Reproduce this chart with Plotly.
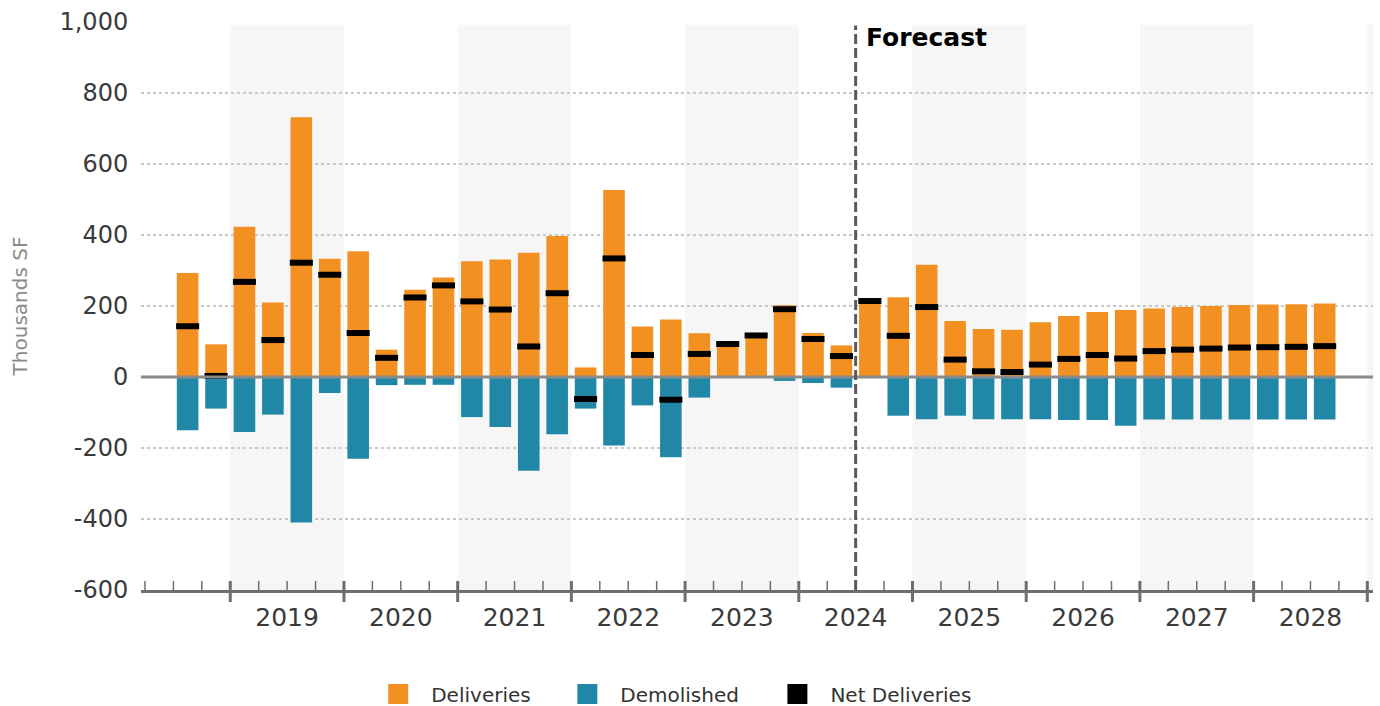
import plotly.graph_objects as go

# Quarterly delivery figures, thousands of square feet (2018 Q3 - 2028 Q3)
quarters = [f"{y} Q{q}" for y in range(2018, 2029) for q in range(1, 5)]
quarters = quarters[quarters.index("2018 Q3"):quarters.index("2028 Q3") + 1]

deliveries = [293, 92, 423, 210, 732, 333, 354, 77, 246, 280,
              326, 331, 350, 397, 27, 527, 142, 162, 123, 93,
              117, 202, 124, 89, 214, 225, 316, 158, 135, 133,
              154, 172, 183, 189, 193, 197, 200, 203, 204, 205, 207]
demolished = [-150, -89, -155, -106, -410, -45, -230, -23, -22, -22,
              -113, -141, -264, -161, -89, -193, -80, -226, -58, 0,
              0, -11, -17, -30, 0, -109, -119, -109, -119, -119,
              -119, -121, -121, -137, -120, -120, -120, -120, -120, -120, -120]
net_deliveries = [d + m for d, m in zip(deliveries, demolished)]

years = list(range(2019, 2029))
y_ticks = [-600, -400, -200, 0, 200, 400, 600, 800, 1000]
y_tick_text = ["-600", "-400", "-200", "0", "200", "400", "600", "800", "1,000"]
forecast_start = "2024 Q3"

ORANGE = "#F39022"
TEAL = "#2187A7"
AXIS_GREY = "#6e6e6e"
FONT = "DejaVu Sans"


def slot(label):
    """Quarter slot index on the x axis; 2018 Q2 is slot 0."""
    y, q = label.split(" Q")
    return (int(y) - 2018) * 4 + int(q) - 2


def year_start(year):
    return (year - 2018) * 4 - 1.5


x = [slot(q) for q in quarters]

fig = go.Figure()
fig.add_trace(go.Bar(x=x, y=deliveries, width=0.76, marker=dict(color=ORANGE, line=dict(width=0)),
                     name="Deliveries", showlegend=False))
fig.add_trace(go.Bar(x=x, y=demolished, width=0.76, marker=dict(color=TEAL, line=dict(width=0)),
                     name="Demolished", showlegend=False))
fig.add_trace(go.Scatter(x=x, y=net_deliveries, mode="markers", name="Net Deliveries", showlegend=False,
                         marker=dict(symbol="line-ew", size=16.5, color="black",
                                     line=dict(width=6, color="black"))))

# legend entries with square swatches, one legend per entry
for i, (name, color) in enumerate([("Deliveries", ORANGE), ("Demolished", TEAL), ("Net Deliveries", "black")]):
    fig.add_trace(go.Scatter(x=[None], y=[None], mode="markers", name=name,
                             legend="legend" if i == 0 else f"legend{i + 1}",
                             marker=dict(symbol="square", size=16, color=color,
                                         line=dict(width=4, color=color))))

shapes = []
# alternating year shading
for yr in range(2019, 2030, 2):
    shapes.append(dict(type="rect", xref="x", yref="paper", x0=year_start(yr), x1=year_start(yr + 1),
                       y0=0, y1=0.995, fillcolor="#f6f6f6", line=dict(width=0), layer="below"))
# zero line
shapes.append(dict(type="line", xref="paper", yref="y", x0=0, x1=1, y0=0, y1=0,
                   line=dict(color="#8a8a8a", width=3), layer="above"))
# quarter ticks and year ticks on the category axis
first_slot, last_slot = -0.5, year_start(2029)
b = first_slot
while b <= last_slot + 1e-9:
    is_year = abs(((b + 1.5) / 4) - round((b + 1.5) / 4)) < 1e-9
    shapes.append(dict(type="line", xref="x", yref="paper", ysizemode="pixel", yanchor=0,
                       x0=b, x1=b, y0=-12 if is_year else 0, y1=9,
                       line=dict(color=AXIS_GREY, width=3 if is_year else 1.5), layer="above"))
    b += 1
# forecast divider
fx = slot(forecast_start) - 0.5
shapes.append(dict(type="line", xref="x", yref="paper", x0=fx, x1=fx, y0=0, y1=0.994,
                   line=dict(color="#5a5a5a", width=3, dash="10px,4px"), layer="above"))

legend_style = dict(orientation="h", xanchor="left", y=-0.183, yanchor="middle", itemwidth=56,
                    font=dict(size=20, color="#333333"), bgcolor="rgba(0,0,0,0)")

fig.update_layout(
    width=1380, height=706,
    margin=dict(l=141, r=7, t=22, b=116, autoexpand=False),
    paper_bgcolor="white", plot_bgcolor="white",
    barmode="relative",
    font=dict(family=FONT, color="#3a3a3a"),
    shapes=shapes,
    annotations=[dict(text="<b>Forecast</b>", xref="x", yref="paper", x=fx, y=0.972,
                      xanchor="left", yanchor="middle", xshift=8, showarrow=False,
                      font=dict(family=FONT, size=25, color="black"))],
    xaxis=dict(range=[-0.64, 42.7], tickmode="array",
               tickvals=[year_start(yr) + 2 for yr in years], ticktext=[str(yr) for yr in years],
               ticks="outside", ticklen=3, tickcolor="rgba(0,0,0,0)",
               showgrid=False, zeroline=False, showline=True, linecolor=AXIS_GREY, linewidth=3,
               tickfont=dict(size=25, color="#3a3a3a")),
    yaxis=dict(range=[-600, 1000], tickmode="array", tickvals=y_ticks, ticktext=y_tick_text,
               ticks="outside", ticklen=7, tickcolor="rgba(0,0,0,0)",
               showgrid=True, gridcolor="#c8c8c8", griddash="dot", gridwidth=1.5,
               zeroline=False, showline=False,
               tickfont=dict(size=24, color="#3a3a3a")),
    legend=dict(x=0.1820, **legend_style),
    legend2=dict(x=0.3355, **legend_style),
    legend3=dict(x=0.5060, **legend_style),
)
fig.update_yaxes(title=dict(text="Thousands SF", font=dict(size=20, color="#8a8a8a"), standoff=26))

fig.write_html("out.html")
